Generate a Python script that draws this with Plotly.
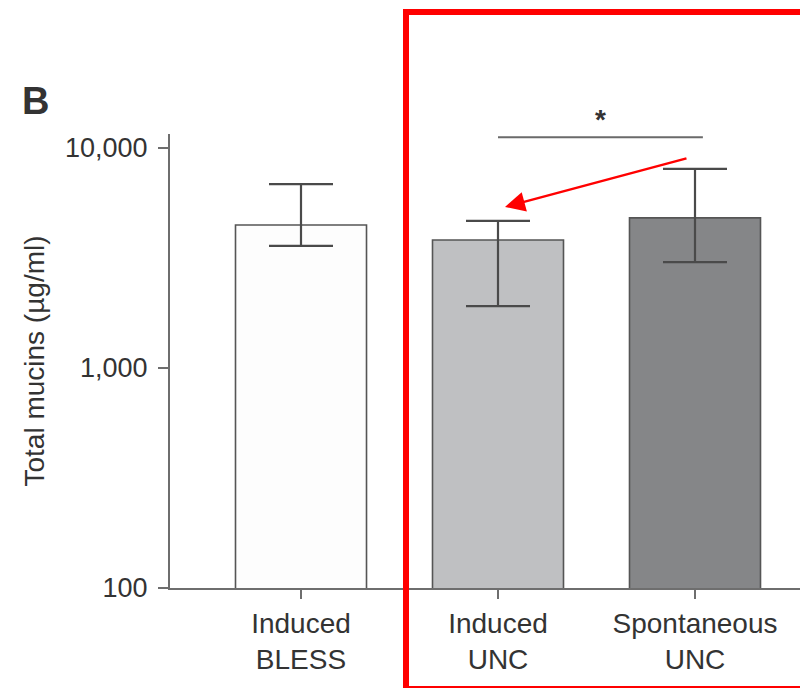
import numpy as np
import plotly.graph_objects as go

# Total mucin concentration by group (µg/ml), means with asymmetric error ranges
categories = ["Induced<br>BLESS", "Induced<br>UNC", "Spontaneous<br>UNC"]
mean_mucins = [4470, 3820, 4810]
upper_mucins = [6850, 4660, 8030]
lower_mucins = [3590, 1910, 3030]
bar_colors = ["#fdfdfd", "#bfc0c2", "#858688"]
y_tick_values = [100, 1000, 10000]
y_tick_labels = ["100", "1,000", "10,000"]
significance_level = 11200  # height of the comparison bracket

err_plus = [u - m for u, m in zip(upper_mucins, mean_mucins)]
err_minus = [m - l for m, l in zip(mean_mucins, lower_mucins)]

FONT = "Liberation Sans, Arial, Helvetica, sans-serif"
TEXT = "#333333"
AXIS = "#6e6e6e"

fig = go.Figure()
fig.add_trace(go.Bar(
    x=categories,
    y=mean_mucins,
    width=0.665,
    marker=dict(color=bar_colors, line=dict(color="#555555", width=1.6)),
    error_y=dict(type="data", symmetric=False, array=err_plus, arrayminus=err_minus,
                 color="#4a4a4a", thickness=2.2, width=32),
    showlegend=False,
))

fig.update_layout(
    width=800, height=688,
    margin=dict(l=170, r=0, t=134, b=100),
    paper_bgcolor="white", plot_bgcolor="white",
    font=dict(family=FONT, color=TEXT, size=28),
    bargap=0.3,
)

fig.update_xaxes(
    type="category",
    range=[-0.665, 2.533],
    showline=True, linecolor=AXIS, linewidth=2,
    ticks="outside", ticklen=9, tickwidth=2, tickcolor=AXIS,
    tickfont=dict(size=28, color=TEXT, family=FONT),
    showgrid=False, zeroline=False,
)
fig.update_yaxes(
    type="log",
    range=[2, 4.0636],
    tickvals=y_tick_values, ticktext=y_tick_labels,
    showline=True, linecolor=AXIS, linewidth=2,
    ticks="outside", ticklen=10, tickwidth=2, tickcolor=AXIS,
    ticklabelstandoff=5,
    tickfont=dict(size=27, color=TEXT, family=FONT),
    showgrid=False, zeroline=False,
    title=dict(text="Total mucins (µg/ml)", font=dict(size=28, color=TEXT, family=FONT), standoff=12),
)

# extend the baseline slightly to the left of the value axis
fig.add_shape(type="line", xref="paper", yref="paper", x0=-10 / 630, x1=0, y0=0, y1=0,
              line=dict(color=AXIS, width=2))

# significance bracket between the two UNC groups
fig.add_shape(type="line", xref="x", yref="y", x0=1.0, x1=2.04,
              y0=significance_level, y1=significance_level,
              line=dict(color="#6a6a6a", width=2))
fig.add_annotation(x=1.52, y=np.log10(significance_level), xref="x", yref="y",
                   text="<b>*</b>", showarrow=False, yanchor="bottom", yshift=0,
                   font=dict(size=28, color=TEXT, family=FONT))

# panel letter
fig.add_annotation(x=-0.238, y=1.0727, xref="paper", yref="paper", text="<b>B</b>",
                   showarrow=False, xanchor="left", yanchor="middle",
                   font=dict(size=38, color=TEXT, family=FONT))

# red highlight box around the UNC groups
fig.add_shape(type="rect", xref="paper", yref="paper", x0=0.3746, x1=1.01,
              y0=-0.2225, y1=1.2687, line=dict(color="#ff0000", width=6))

# red pointer arrow
fig.add_annotation(x=0.5317, y=0.8392, xref="paper", yref="paper", text="",
                   showarrow=True, ax=183, ay=-49, axref="pixel", ayref="pixel",
                   arrowcolor="#ff0000", arrowwidth=2.5, arrowhead=2, arrowsize=1.6,
                   standoff=0, startstandoff=0)

fig.write_html("out.html")
